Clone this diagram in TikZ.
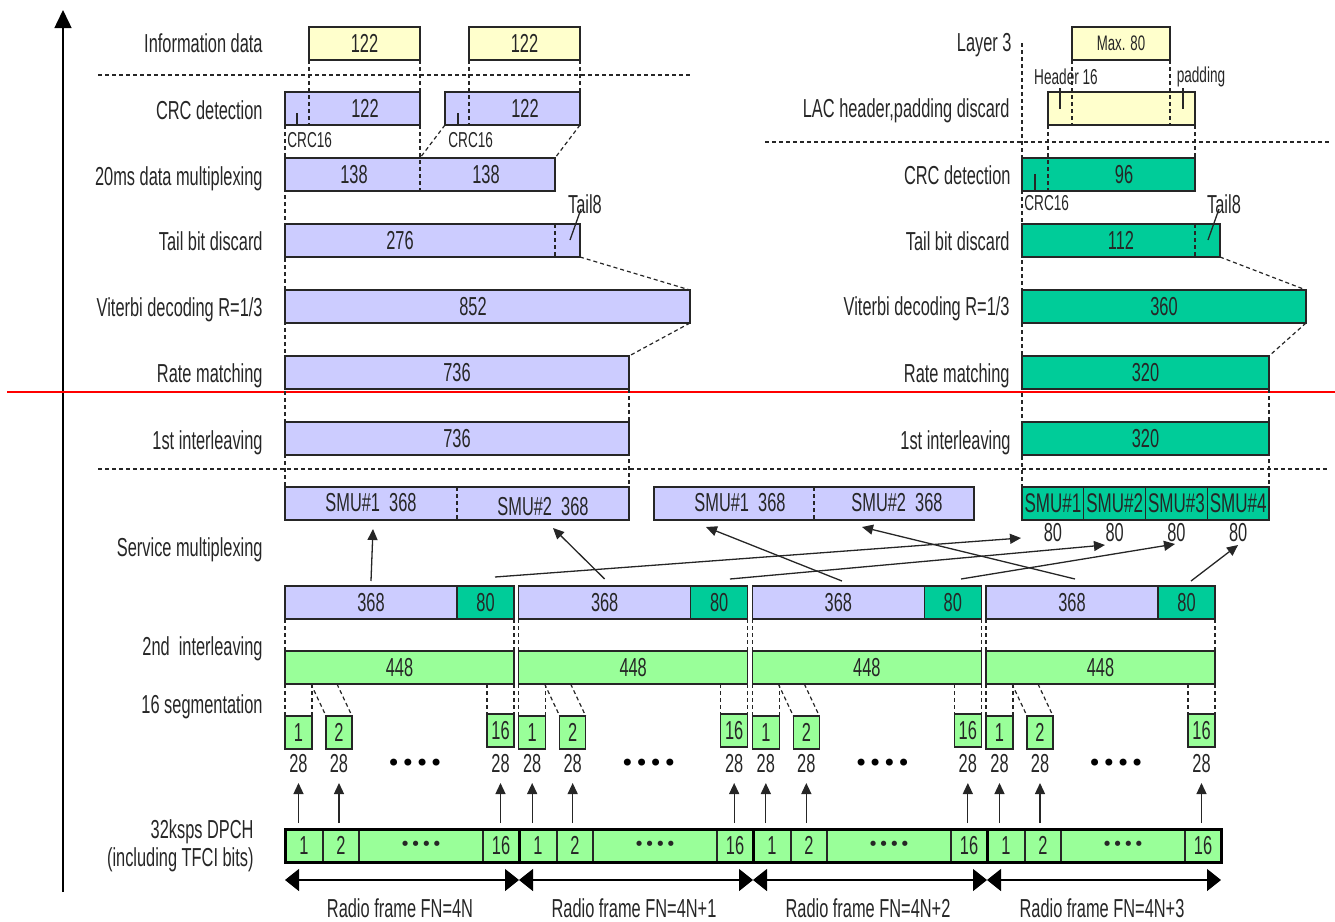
\documentclass[tikz,border=0pt]{standalone}
\usepackage{fontspec}
\setmainfont{Liberation Sans}[FakeStretch=0.63]
\newfontfamily\dotfont{DejaVu Sans}
\usetikzlibrary{arrows.meta, positioning}
\definecolor{lavbox}{HTML}{CCCCFF}
\definecolor{tealbox}{HTML}{00CC99}
\definecolor{greenbox}{HTML}{99FF99}
\definecolor{yelbox}{HTML}{FFFFCC}
\definecolor{inkgray}{HTML}{262626}

\begin{document}
\begin{tikzpicture}[
    x=0.5pt, y=-0.5pt,
    blk/.style={
      rectangle,
      draw=inkgray,
      line width=0.6pt,
      inner sep=0pt,
      outer sep=0pt,
      anchor=north west,
      minimum height=16.5pt,
      text=inkgray,
      font=\fontsize{13}{15}\selectfont
    },
    wd/.style={minimum width=#1*0.5pt},
    lav/.style={blk, fill=lavbox},
    tea/.style={blk, fill=tealbox},
    grn/.style={blk, fill=greenbox},
    yel/.style={blk, fill=yelbox},
    stage/.style={anchor=base east, inner sep=0pt, text=inkgray, font=\fontsize{13}{15}\selectfont},
    num/.style={inner sep=0pt, text=inkgray, font=\fontsize{13}{15}\selectfont},
    note/.style={inner sep=0pt, text=inkgray, font=\fontsize{10.8}{12}\selectfont},
    bullets/.style={font=\dotfont\fontsize{12}{12}\selectfont},
    guide/.style={draw=inkgray, line width=0.6pt, dash pattern=on 2pt off 1.5pt},
    pinline/.style={draw=inkgray, line width=0.65pt},
    arrow/.style={-{Triangle[length=5.5pt, width=5pt]}, draw=inkgray, line width=0.65pt},
    frmspan/.style={arrows={Triangle[length=7pt, width=11pt]-Triangle[length=7pt, width=11pt]}, draw=black, line width=0.65pt}
  ]
  \useasboundingbox (0,0) rectangle (1335,922);

  % axis and stage separators
  \coordinate (axbot) at (63,892);
  \coordinate (axtop) at (63,10);
  \draw[draw=black, line width=0.75pt, -{Triangle[length=9pt, width=8.5pt]}] (axbot) -- (axtop);
  \draw[red, line width=0.8pt] (7,392) -- (1335,392);
  \draw[guide] (98,75) -- (690,75);
  \draw[guide] (765,142) -- (1330,142);
  \draw[guide] (98,469) -- (1330,469);

  % stage names
  \node[stage] (sInfo) at (263,52) {Information data};
  \node[stage] (sCrc) at (263,119) {CRC detection};
  \node[stage] (sMux) at (263,185) {20ms data multiplexing};
  \node[stage] (sTail) at (263,250) {Tail bit discard};
  \node[stage] (sVit) at (263,316) {Viterbi decoding R=1/3};
  \node[stage] (sRate) at (263,382) {Rate matching};
  \node[stage] (sIlv) at (263,449) {1st interleaving};
  \node[stage] (sSmux) at (263,556) {Service multiplexing};
  \node[stage] (sIlv2) at (263,655) {2nd\ \ interleaving};
  \node[stage] (sSeg) at (263,713) {16 segmentation};
  \node[stage, anchor=east, align=right, font=\fontsize{13}{14}\selectfont] (sDpch) at (254,846) {32ksps DPCH\\(including TFCI bits)};

  \node[stage] (rL3) at (1012,51) {Layer 3};
  \node[stage] (rLac) at (1010,117) {LAC header,padding discard};
  \node[stage] (rCrc) at (1011,184) {CRC detection};
  \node[stage] (rTail) at (1010,250) {Tail bit discard};
  \node[stage] (rVit) at (1010,315) {Viterbi decoding R=1/3};
  \node[stage] (rRate) at (1010,382) {Rate matching};
  \node[stage] (rIlv) at (1011,449) {1st interleaving};

  % speech path
  \node[yel, wd=111] (info1) at (309,27) {122};
  \node[yel, wd=111] (info2) at (469,27) {122};
  \node[lav, wd=135] (crc1) at (285,92) {};
  \node[lav, wd=135] (crc2) at (445,92) {};
  \node[num] (crc1n) at (365,108) {122};
  \node[num] (crc2n) at (525,108) {122};
  \node[note, anchor=west] (crc1c) at (287,140) {CRC16};
  \node[note, anchor=west] (crc2c) at (448,140) {CRC16};
  \node[lav, wd=270] (mux) at (285,158) {};
  \node[num] (mux1n) at (354,175) {138};
  \node[num] (mux2n) at (486,175) {138};
  \node[lav, wd=295] (tail) at (285,224) {};
  \node[num] (tailn) at (400,241) {276};
  \node[num] (tail8) at (585,204) {Tail8};
  \node[lav, wd=405] (vit) at (285,290) {};
  \node[num] (vitn) at (473,307) {852};
  \node[lav, wd=344] (rate) at (285,356) {736};
  \node[lav, wd=344] (ilv) at (285,422) {736};
  \node[lav, wd=344] (smuA) at (285,487) {};
  \node[num] (smuA1) at (371,503) {SMU\#1\ \ 368};
  \node[num] (smuA2) at (543,507) {SMU\#2\ \ 368};
  \node[lav, wd=320] (smuB) at (654,487) {};
  \node[num] (smuB1) at (740,503) {SMU\#1\ \ 368};
  \node[num] (smuB2) at (897,503) {SMU\#2\ \ 368};

  \draw[guide] (info1.south west) -- (info1.south west |- crc1.south);
  \draw[guide] (info1.south east) -- (crc1.north east);
  \draw[guide] (info2.south west) -- (info2.south west |- crc2.south);
  \draw[guide] (info2.south east) -- (crc2.north east);
  \draw[guide] (crc1.south east) -- (crc1.south east |- mux.south);
  \draw[guide] (crc2.south west) -- (crc1.south east |- mux.north);
  \draw[guide] (crc2.south east) -- (mux.north east);
  \draw[guide] (mux.east |- tail.north) -- (mux.east |- tail.south);
  \draw[guide] (tail.south east) -- (vit.north east);
  \draw[guide] (vit.south east) -- (rate.north east);
  \draw[guide] (rate.south east) -- (smuA.north east);
  \draw[guide] (crc1.south west) -- (smuA.north west);
  \draw[guide] ([xshift=86pt]smuA.north west) -- ([xshift=86pt]smuA.south west);
  \draw[guide] (smuB.north) -- (smuB.south);
  \draw[pinline] ([xshift=6pt]crc1.south west) -- ++(0,-12);
  \draw[pinline] ([xshift=6.5pt]crc2.south west) -- ++(0,-12);
  \draw[pinline] ([xshift=-5pt, yshift=8.5pt]tail.south east) -- ++(11,-31);

  % signalling path
  \node[yel, wd=98, font=\fontsize{10.5}{12}\selectfont] (l3) at (1072,27) {Max. 80};
  \node[yel, wd=147] (lac) at (1048,92) {};
  \node[note] (hdr) at (1066,77) {Header 16};
  \node[note] (pad) at (1201,77) {padding};
  \node[tea, wd=173] (crcR) at (1022,158) {};
  \node[num] (crcRn) at (1124,175) {96};
  \node[note, anchor=west] (crcRc) at (1024,203) {CRC16};
  \node[tea, wd=198] (tailR) at (1022,224) {112};
  \node[num] (tail8R) at (1224,204) {Tail8};
  \node[tea, wd=284] (vitR) at (1022,290) {360};
  \node[tea, wd=247] (rateR) at (1022,356) {320};
  \node[tea, wd=247] (ilvR) at (1022,422) {320};
  \foreach \i in {1,...,4} {
    \node[tea, wd=61.75, font=\fontsize{13.5}{15}\selectfont] (smu\i) at ({1022+61.75*(\i-1)},487) {SMU\#\i};
    \node[num, below=1.5pt of smu\i] (smuc\i) {80};
  }

  \coordinate (l3top) at (1022,43);
  \draw[guide] (l3top) -- (l3top |- smu1.north);
  \draw[guide] (l3.south west) -- (l3.south west |- lac.south);
  \draw[guide] (l3.south east) -- (l3.south east |- lac.south);
  \draw[guide] (lac.south west) -- (lac.south west |- crcR.south);
  \draw[guide] (lac.south east) -- (crcR.north east);
  \draw[guide] (crcR.east |- tailR.north) -- (crcR.east |- tailR.south);
  \draw[guide] (tailR.south east) -- (vitR.north east);
  \draw[guide] (vitR.south east) -- (rateR.north east);
  \draw[guide] (rateR.south east) -- (smu4.north east);
  \draw[pinline] ([xshift=6pt, yshift=2pt]lac.north west) -- ++(0,21);
  \draw[pinline] ([xshift=-6pt, yshift=2pt]lac.north east) -- ++(0,21);
  \draw[pinline] ([xshift=6.5pt]crcR.south west) -- ++(0,-17);
  \draw[pinline] ([xshift=-6pt, yshift=8.5pt]tailR.south east) -- ++(11,-31);

  % four radio frames
  \foreach \k/\fn in {0/4N, 1/4N+1, 2/4N+2, 3/4N+3} {
    \pgfmathsetmacro{\fx}{285+233.67*\k}
    \pgfmathsetmacro{\dx}{285+234*\k}
    \node[lav, wd=172] (sm\k) at (\fx,586) {368};
    \node[tea, wd=57] (st\k) at (sm\k.north east) {80};
    \node[grn, wd=229] (il\k) at (\fx,651) {448};
    \node[grn, wd=27] (sa\k) at (\fx,716) {1};
    \node[grn, wd=26] (sb\k) at (\fx+41,716) {2};
    \node[grn, wd=27] (sp\k) at (\fx+202,714) {16};
    \node[num, below=2.5pt of sa\k] (na\k) {28};
    \node[num, below=2.5pt of sb\k] (nb\k) {28};
    \node[num, below=3.5pt of sp\k] (np\k) {28};
    \node[bullets] (sd\k) at (\fx+130,765) {••••};
    \draw[guide] (sm\k.south west) -- (il\k.north west);
    \draw[guide] (st\k.south east) -- (il\k.north east);
    \draw[guide] (il\k.south west) -- (sa\k.north west);
    \draw[guide] (sa\k.north east |- il\k.south) -- (sa\k.north east);
    \draw[guide] ([xshift=13pt]il\k.south west) -- (sb\k.north west);
    \draw[guide] ([xshift=26pt]il\k.south west) -- (sb\k.north east);
    \draw[guide] (sp\k.north west |- il\k.south) -- (sp\k.north west);
    \draw[guide] (il\k.south east) -- (sp\k.north east);

    \node[grn, wd=38] (da\k) at (\dx,829) {1};
    \node[grn, wd=36] (db\k) at (da\k.north east) {2};
    \node[grn, wd=124, font=\dotfont\fontsize{9}{10}\selectfont] (dd\k) at (db\k.north east) {••••};
    \node[grn, wd=36] (dp\k) at (dd\k.north east) {16};
    \draw[draw=black, line width=1.5pt] (da\k.north west) rectangle (dp\k.south east);
    \draw[arrow] ([yshift=3pt]sa\k |- da\k.north) -- ([yshift=23pt]sa\k |- da\k.north);
    \draw[arrow] ([yshift=3pt]sb\k |- da\k.north) -- ([yshift=23pt]sb\k |- da\k.north);
    \draw[arrow] ([yshift=3pt]sp\k |- da\k.north) -- ([yshift=23pt]sp\k |- da\k.north);
    \draw[frmspan] ([yshift=-9pt]da\k.south west) -- ([yshift=-9pt]dp\k.south east);
    \node[num] (fn\k) at (\dx+115,908) {Radio frame FN=\fn};
  }

  % service multiplexing
  \draw[arrow] ([yshift=2.5pt]sm0.north) -- ([xshift=44pt, yshift=-4.5pt]smuA.south west);
  \draw[arrow] ([yshift=3.5pt]sm1.north) -- ([xshift=48pt, yshift=-4pt]smuA.south);
  \draw[arrow] ([xshift=4.75pt, yshift=4.5pt]st0.north) -- ([xshift=-0.5pt, yshift=-9pt]smu1.south west);
  \draw[arrow] ([xshift=5.4pt, yshift=3.5pt]st1.north) -- ([xshift=10.6pt, yshift=-12.5pt]smu2.south west);
  \draw[arrow] ([xshift=1.8pt, yshift=2.5pt]sm2.north) -- ([xshift=26pt, yshift=-3.5pt]smuB.south west);
  \draw[arrow] ([xshift=4.1pt, yshift=3.5pt]st2.north) -- ([xshift=14.75pt, yshift=-12pt]smu3.south west);
  \draw[arrow] ([xshift=1.5pt, yshift=3.5pt]sm3.north) -- ([xshift=24pt, yshift=-3.5pt]smuB.south);
  \draw[arrow] ([xshift=2.25pt, yshift=2.5pt]st3.north) -- ([xshift=15.4pt, yshift=-12.5pt]smu4.south west);
\end{tikzpicture}
\end{document}
